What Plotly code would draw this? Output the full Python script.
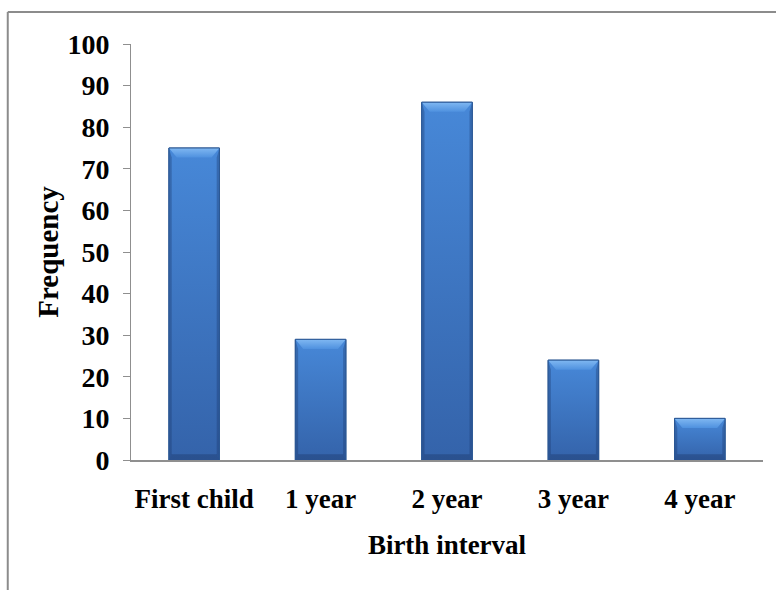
import plotly.graph_objects as go

# Birth interval distribution
categories = ["First child", "1 year", "2 year", "3 year", "4 year"]
frequency = [75, 29, 86, 24, 10]
y_tick_values = list(range(0, 101, 10))

FONT = "Liberation Serif, Times New Roman, serif"
BAR_W = 0.4
positions = list(range(len(categories)))

fig = go.Figure()

# the bars themselves
fig.add_trace(go.Bar(
    x=positions, y=frequency, width=BAR_W,
    marker=dict(color="#3b73c0", line=dict(color="#2c5894", width=1)),
    showlegend=False, hoverinfo="x+y",
))

# bevel shading drawn over each bar (sizes in axis units)
inset_x = 0.063   # horizontal inset of the top bevel
side_x = 0.022    # width of the darker side edges
top_h = 2.3       # height of the light top bevel
bot_h = 1.4       # height of the darker bottom edge


def poly(xs, ys, **kw):
    fig.add_trace(go.Scatter(
        x=xs + [xs[0]], y=ys + [ys[0]], mode="lines", fill="toself",
        line=dict(width=0), showlegend=False, hoverinfo="skip", **kw))


for i, v in zip(positions, frequency):
    x0, x1 = i - BAR_W / 2, i + BAR_W / 2
    # body with a vertical gradient
    poly([x0, x1, x1, x0], [0, 0, v, v],
         fillgradient=dict(type="vertical", start=0, stop=v,
                           colorscale=[[0, "#3463aa"], [1, "#4788d8"]]))
    # darker left / right edges
    poly([x0, x0 + side_x, x0 + side_x, x0], [0, bot_h, v - top_h, v],
         fillcolor="rgba(25,55,105,0.35)")
    poly([x1, x1 - side_x, x1 - side_x, x1], [0, bot_h, v - top_h, v],
         fillcolor="rgba(25,55,105,0.35)")
    # darker bottom edge
    poly([x0, x1, x1 - side_x, x0 + side_x], [0, 0, bot_h, bot_h],
         fillcolor="rgba(25,50,95,0.35)")
    # light top bevel
    poly([x0, x1, x1 - inset_x, x0 + inset_x], [v, v, v - top_h, v - top_h],
         fillgradient=dict(type="vertical", start=v - top_h, stop=v,
                           colorscale=[[0, "#4f91df"], [1, "#80b8f2"]]))
    # outline
    fig.add_trace(go.Scatter(
        x=[x0, x0, x1, x1], y=[0, v, v, 0], mode="lines",
        line=dict(color="#2c5894", width=1), showlegend=False,
        hoverinfo="skip"))

fig.update_layout(
    width=776, height=590,
    margin=dict(l=131, r=13, t=44, b=130),
    paper_bgcolor="white", plot_bgcolor="white",
    font=dict(family=FONT, color="black"),
    showlegend=False,
    xaxis=dict(
        range=[-0.5, len(categories) - 0.5],
        tickmode="array", tickvals=positions, ticktext=categories,
        ticks="", showgrid=False, zeroline=False,
        showline=True, linecolor="#8f8f8f", linewidth=1.5,
        tickfont=dict(family=FONT, size=27, weight="bold", color="black"),
        ticklabelstandoff=14,
        title=dict(text="Birth interval", standoff=22,
                   font=dict(family=FONT, size=27, weight="bold",
                             color="black")),
    ),
    yaxis=dict(
        range=[0, 100], tickmode="array", tickvals=y_tick_values,
        ticks="outside", ticklen=7, tickcolor="#8f8f8f", tickwidth=1,
        showgrid=False, zeroline=False,
        showline=True, linecolor="#8f8f8f", linewidth=1,
        tickfont=dict(family=FONT, size=28, weight="bold", color="black"),
        ticklabelstandoff=8,
        title=dict(text="Frequency", standoff=0,
                   font=dict(family=FONT, size=29, weight="bold",
                             color="black")),
    ),
    shapes=[
        # outer chart frame (open at the right and bottom edges)
        dict(type="line", xref="paper", yref="paper",
             x0=-0.195, x1=1.1, y0=1.077, y1=1.077,
             line=dict(color="#8c8c8c", width=2)),
        dict(type="line", xref="paper", yref="paper",
             x0=-0.195, x1=-0.195, y0=1.077, y1=-0.33,
             line=dict(color="#8c8c8c", width=2)),
    ],
)

fig.write_html("out.html")
